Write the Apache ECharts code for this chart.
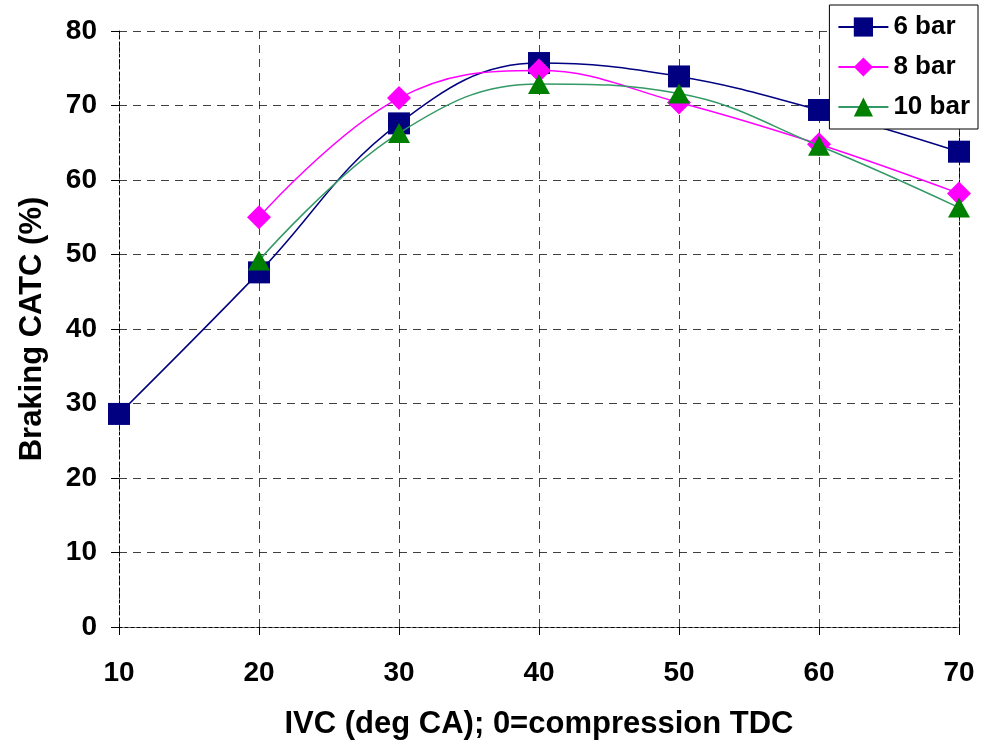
<!DOCTYPE html>
<html><head><meta charset="utf-8">
<script src="https://cdn.jsdelivr.net/npm/echarts@6/dist/echarts.min.js"></script>
<style>html,body{margin:0;padding:0;background:#fff}#c{width:983px;height:742px}</style>
</head><body><div id="c"></div>
<script>
const ivc6 = [10, 20, 30, 40, 50, 60, 70];
const bar6 = [28.6, 47.6, 67.6, 75.7, 73.9, 69.4, 63.8];
const ivc8 = [20, 30, 40, 50, 60, 70];
const bar8 = [55.0, 71.0, 74.7, 70.4, 64.8, 58.2];
const ivc10 = [20, 30, 40, 50, 60, 70];
const bar10 = [49.2, 66.3, 72.9, 71.6, 64.6, 56.3];
const seriesNames = ['6 bar', '8 bar', '10 bar'];

const F = 'Liberation Sans, Arial, sans-serif';
const chart = echarts.init(document.getElementById('c'));
function pairs(xs, ys){ return xs.map((x,i)=>[x, ys[i]]); }
const triangle = 'path://M0,-1L1,0.8L-1,0.8Z';
chart.setOption({
  animation: false,
  grid: {left: 119, right: 24, top: 31, bottom: 115, outerBoundsMode: 'none', containLabel: false},
  legend: {
    right: 5, top: 5, orient: 'vertical', itemGap: 14,
    itemWidth: 50, itemHeight: 24,
    backgroundColor: '#fff', borderColor: '#000', borderWidth: 1, padding: [9, 8, 9, 8],
    textStyle: {fontFamily: F, fontWeight: 'bold', fontSize: 26, color: '#000'},
    data: seriesNames
  },
  xAxis: [{
    type: 'value', min: 10, max: 70, interval: 10,
    name: 'IVC (deg CA); 0=compression TDC', nameLocation: 'middle', nameGap: 82,
    nameTextStyle: {fontFamily: F, fontWeight: 'bold', fontSize: 31, color: '#000'},
    axisLine: {lineStyle: {color: '#808080', width: 1}},
    axisTick: {show: true, length: 8, lineStyle: {color: '#000'}},
    axisLabel: {fontFamily: F, fontWeight: 'bold', fontSize: 28, color: '#000', margin: 32},
    splitLine: {show: true, lineStyle: {color: '#000', type: [8, 6], width: 1, opacity: 0.75}}
  }, {
    type: 'value', position: 'top', min: 10, max: 70, interval: 10,
    axisLine: {show: true, lineStyle: {color: '#000', type: [3, 3]}},
    axisTick: {show: false}, axisLabel: {show: false}, splitLine: {show: false}
  }],
  yAxis: [{
    type: 'value', min: 0, max: 80, interval: 10,
    name: 'Braking CATC (%)', nameLocation: 'middle', nameGap: 71,
    nameTextStyle: {fontFamily: F, fontWeight: 'bold', fontSize: 31, color: '#000'},
    axisLine: {show: true, lineStyle: {color: '#000', type: [3, 3]}},
    axisTick: {show: true, length: 8, lineStyle: {color: '#000'}},
    axisLabel: {fontFamily: F, fontWeight: 'bold', fontSize: 28, color: '#000', margin: 22},
    splitLine: {show: true, lineStyle: {color: '#000', type: [8, 6], width: 1, opacity: 0.75}}
  }, {
    type: 'value', position: 'right', min: 0, max: 80, interval: 10,
    axisLine: {show: true, lineStyle: {color: '#000', type: [3, 3]}},
    axisTick: {show: false}, axisLabel: {show: false}, splitLine: {show: false}
  }],
  series: [
    {name: seriesNames[0], type: 'line', smooth: 0.4, data: pairs(ivc6, bar6),
     symbol: 'rect', symbolSize: 22, lineStyle: {color: '#000080', width: 1.5},
     itemStyle: {color: '#000080'}, z: 3},
    {name: seriesNames[1], type: 'line', smooth: 0.4, data: pairs(ivc8, bar8),
     symbol: 'diamond', symbolSize: 24, lineStyle: {color: '#FF00FF', width: 1.5},
     itemStyle: {color: '#FF00FF'}, z: 4},
    {name: seriesNames[2], type: 'line', smooth: 0.4, data: pairs(ivc10, bar10),
     symbol: triangle, symbolSize: [22, 20], lineStyle: {color: '#339966', width: 1.5},
     itemStyle: {color: '#008000'}, z: 5}
  ]
});
</script></body></html>
